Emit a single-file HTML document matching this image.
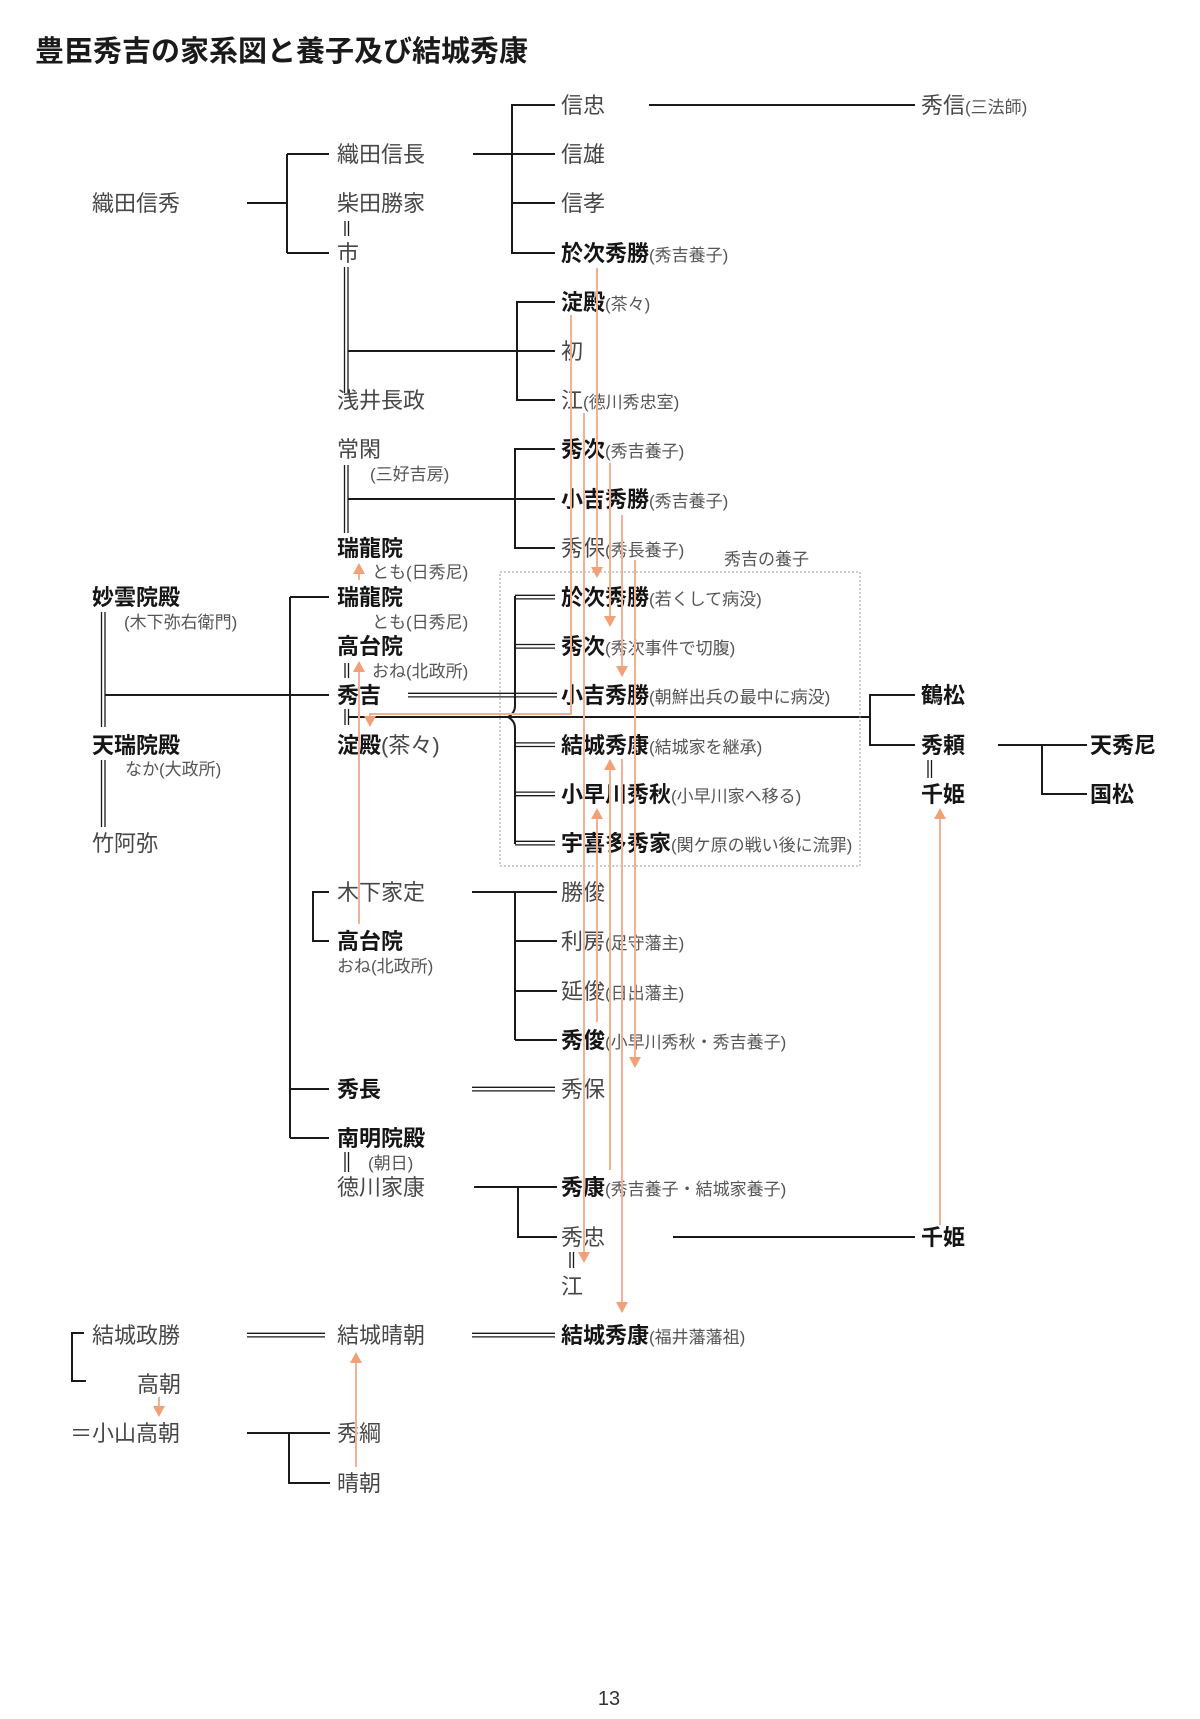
<!DOCTYPE html>
<html><head><meta charset="utf-8"><style>
html,body{margin:0;padding:0;background:#fff;}
svg{display:block;}
text{font-family:"Liberation Sans","Noto Sans CJK JP",sans-serif;}
.r{font-size:22px;fill:#474747;}
.b{font-size:22px;font-weight:bold;fill:#151515;}
.s{font-size:17px;fill:#555;font-weight:normal;}
.rr{font-size:22px;fill:#474747;font-weight:normal;}
.t{font-size:29px;font-weight:bold;fill:#1a1a1a;}
.k{stroke:#1a1a1a;stroke-width:2;fill:none;}
.d{stroke:#1a1a1a;stroke-width:1.3;fill:none;}
.o{stroke:#f4b191;stroke-width:2;fill:none;}
.oh{fill:#f2a077;}
</style></head><body>
<svg width="1200" height="1719" viewBox="0 0 1200 1719" xmlns="http://www.w3.org/2000/svg">
<rect width="1200" height="1719" fill="#fff"/>
<text class="t" x="35" y="61">豊臣秀吉の家系図と養子及び結城秀康</text>

<!-- black lines -->
<path class="k" d="M247 203H287M287 154V253M287 154H329M287 253H329"/>
<path class="d" d="M345 221V236M348.5 221V236"/>
<path class="d" d="M344.5 267V393M348 267V393"/>
<path class="k" d="M348 351H555M555 302H517V400H555"/>
<path class="k" d="M473 154H555M555 105H512V253H555M512 203H555"/>
<path class="k" d="M649 105H915"/>

<path class="d" d="M344.5 465V533M348 465V533"/>
<path class="k" d="M348 499H555M555 449H515V548H555"/>

<path class="d" d="M101.5 612V727M105 612V727M101.5 760V827M105 760V827"/>
<path class="k" d="M105 695H329"/>
<path class="k" d="M290 597V1138M290 597H329M290 1089H329M290 1138H329"/>
<path class="d" d="M345 663V678M348.5 663V678"/>
<path class="d" d="M408 693.3H557M408 696.9H557"/>
<path class="d" d="M345 709V725M348.5 709V725"/>
<path class="k" d="M349 717H870"/>
<path class="k" d="M515 596V706Q515 713 508 717Q515 721 515 728V844"/>
<path class="d" d="M515 595.3H555M515 598.9H555M515 644.5H555M515 648.1H555M515 742.9H555M515 746.5H555M515 792.1H555M515 795.7H555M515 841.3H555M515 844.9H555"/>
<rect x="500" y="572" width="360" height="294" fill="none" stroke="#9a9a9a" stroke-width="1" stroke-dasharray="2 2"/>
<path class="k" d="M915 695H870V745H915"/>
<path class="d" d="M928 760V778M931.5 760V778"/>
<path class="k" d="M998 745H1087M1042 745V794H1087"/>

<path class="k" d="M329 892H313V941H329"/>
<path class="k" d="M472 892H557M515 892V1040M515 941H557M515 991H557M515 1040H557"/>
<path class="d" d="M472 1087.3H555M472 1090.9H555"/>
<path class="d" d="M345 1152V1172M348.5 1152V1172"/>
<path class="k" d="M474 1187H557M518 1187V1237H557"/>
<path class="k" d="M673 1237H915"/>
<path class="d" d="M570 1252V1268M573.5 1252V1268"/>

<path class="k" d="M84 1333H72V1381H86"/>
<path class="d" d="M247 1333.3H325M247 1336.9H325M472 1333.3H555M472 1336.9H555"/>
<path class="k" d="M247 1433H330M289 1433V1483H330"/>

<!-- column A -->
<text class="r" x="92" y="211">織田信秀</text>
<text class="b" x="92" y="605">妙雲院殿</text>
<text class="s" x="124" y="628">(木下弥右衛門)</text>
<text class="b" x="92" y="753">天瑞院殿</text>
<text class="s" x="125" y="775">なか(大政所)</text>
<text class="r" x="92" y="851">竹阿弥</text>
<text class="r" x="92" y="1343">結城政勝</text>
<text class="r" x="137" y="1392">高朝</text>
<text class="r" x="70" y="1441">＝小山高朝</text>

<!-- column B -->
<text class="r" x="337" y="162">織田信長</text>
<text class="r" x="337" y="211">柴田勝家</text>
<text class="r" x="337" y="261">市</text>
<text class="r" x="337" y="408">浅井長政</text>
<text class="r" x="337" y="457">常閑</text>
<text class="s" x="370" y="480">(三好吉房)</text>
<text class="b" x="337" y="556">瑞龍院</text>
<text class="s" x="372" y="578">とも(日秀尼)</text>
<text class="b" x="337" y="605">瑞龍院</text>
<text class="s" x="372" y="628">とも(日秀尼)</text>
<text class="b" x="337" y="654">高台院</text>
<text class="s" x="372" y="677">おね(北政所)</text>
<text class="b" x="337" y="703">秀吉</text>
<text class="b" x="337" y="753">淀殿<tspan class="rr">(茶々)</tspan></text>
<text class="r" x="337" y="900">木下家定</text>
<text class="b" x="337" y="949">高台院</text>
<text class="s" x="337" y="972">おね(北政所)</text>
<text class="b" x="337" y="1097">秀長</text>
<text class="b" x="337" y="1146">南明院殿</text>
<text class="s" x="368" y="1169">(朝日)</text>
<text class="r" x="337" y="1195">徳川家康</text>
<text class="r" x="337" y="1343">結城晴朝</text>
<text class="r" x="337" y="1441">秀綱</text>
<text class="r" x="337" y="1491">晴朝</text>

<!-- column C -->
<text class="r" x="561" y="113">信忠</text>
<text class="r" x="561" y="162">信雄</text>
<text class="r" x="561" y="211">信孝</text>
<text class="b" x="561" y="261">於次秀勝<tspan class="s">(秀吉養子)</tspan></text>
<text class="b" x="561" y="310">淀殿<tspan class="s">(茶々)</tspan></text>
<text class="r" x="561" y="359">初</text>
<text class="r" x="561" y="408">江<tspan class="s">(徳川秀忠室)</tspan></text>
<text class="b" x="561" y="457">秀次<tspan class="s">(秀吉養子)</tspan></text>
<text class="b" x="561" y="507">小吉秀勝<tspan class="s">(秀吉養子)</tspan></text>
<text class="r" x="561" y="556">秀保<tspan class="s">(秀長養子)</tspan></text>
<text class="s" x="724" y="565">秀吉の養子</text>
<text class="b" x="561" y="605">於次秀勝<tspan class="s">(若くして病没)</tspan></text>
<text class="b" x="561" y="654">秀次<tspan class="s">(秀次事件で切腹)</tspan></text>
<text class="b" x="561" y="703">小吉秀勝<tspan class="s">(朝鮮出兵の最中に病没)</tspan></text>
<text class="b" x="561" y="753">結城秀康<tspan class="s">(結城家を継承)</tspan></text>
<text class="b" x="561" y="802">小早川秀秋<tspan class="s">(小早川家へ移る)</tspan></text>
<text class="b" x="561" y="851">宇喜多秀家<tspan class="s">(関ケ原の戦い後に流罪)</tspan></text>
<text class="r" x="561" y="900">勝俊</text>
<text class="r" x="561" y="949">利房<tspan class="s">(足守藩主)</tspan></text>
<text class="r" x="561" y="999">延俊<tspan class="s">(日出藩主)</tspan></text>
<text class="b" x="561" y="1048">秀俊<tspan class="s">(小早川秀秋・秀吉養子)</tspan></text>
<text class="r" x="561" y="1097">秀保</text>
<text class="b" x="561" y="1195">秀康<tspan class="s">(秀吉養子・結城家養子)</tspan></text>
<text class="r" x="561" y="1245">秀忠</text>
<text class="r" x="561" y="1294">江</text>
<text class="b" x="561" y="1343">結城秀康<tspan class="s">(福井藩藩祖)</tspan></text>

<!-- column D / E -->
<text class="r" x="921" y="113">秀信<tspan class="s">(三法師)</tspan></text>
<text class="b" x="921" y="703">鶴松</text>
<text class="b" x="921" y="753">秀頼</text>
<text class="b" x="921" y="802">千姫</text>
<text class="b" x="921" y="1245">千姫</text>
<text class="b" x="1090" y="753">天秀尼</text>
<text class="b" x="1090" y="802">国松</text>

<text x="609" y="1705" text-anchor="middle" style="font-size:20px;fill:#333;">13</text>

<!-- orange arrows -->
<g>
<path class="o" d="M597 268V567"/><polygon class="oh" points="591,567 603,567 597,578"/>
<path class="o" d="M610 463V616"/><polygon class="oh" points="604,616 616,616 610,627"/>
<path class="o" d="M622 515V666"/><polygon class="oh" points="616,666 628,666 622,677"/>
<path class="o" d="M571 315V714H370V716"/><polygon class="oh" points="364,716 376,716 370,727"/>
<path class="o" d="M584 413V1252"/><polygon class="oh" points="578,1252 590,1252 584,1263"/>
<path class="o" d="M635 560V1057"/><polygon class="oh" points="629,1057 641,1057 635,1068"/>
<path class="o" d="M597 1022V819"/><polygon class="oh" points="591,819 603,819 597,808"/>
<path class="o" d="M610 1170V770"/><polygon class="oh" points="604,770 616,770 610,759"/>
<path class="o" d="M622 759V1302"/><polygon class="oh" points="616,1302 628,1302 622,1313"/>
<path class="o" d="M359 580V574"/><polygon class="oh" points="353,574 365,574 359,563"/>
<path class="o" d="M359 924V672"/><polygon class="oh" points="353,672 365,672 359,661"/>
<path class="o" d="M940 1225V819"/><polygon class="oh" points="934,819 946,819 940,808"/>
<path class="o" d="M159 1397V1406"/><polygon class="oh" points="153,1406 165,1406 159,1417"/>
<path class="o" d="M356 1467V1363"/><polygon class="oh" points="350,1363 362,1363 356,1352"/>
</g>
</svg>
</body></html>
